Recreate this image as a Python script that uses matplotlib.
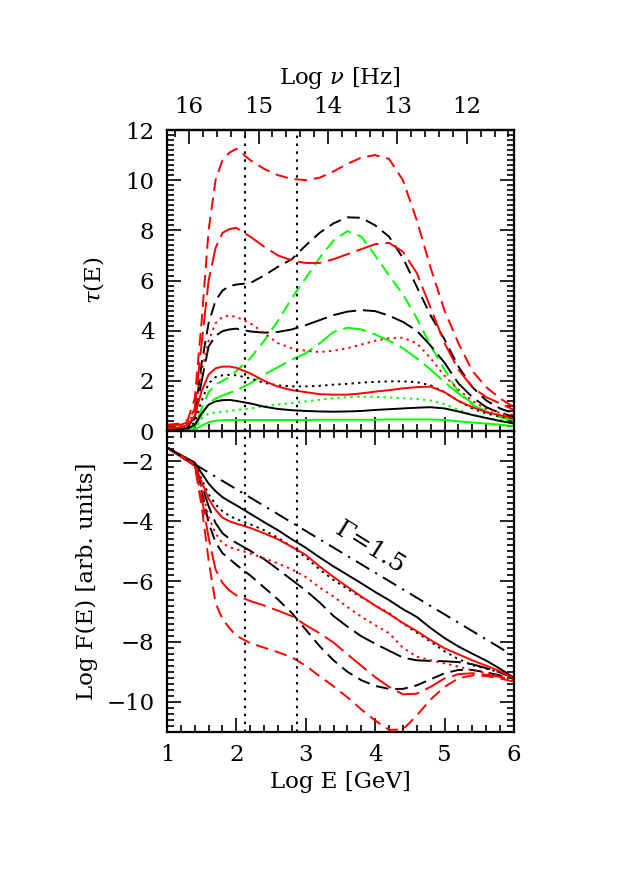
import numpy as np
import matplotlib
matplotlib.use('Agg')
import matplotlib.pyplot as plt
from matplotlib.ticker import MultipleLocator

# ---------------------------------------------------------------
# data
# ---------------------------------------------------------------
# upper panel: optical depth tau(E)
x_tau = [1.0, 1.2, 1.3, 1.4, 1.5, 1.6, 1.7, 1.8, 1.9, 2.0, 2.2, 2.4, 2.6, 2.8, 3.0,
         3.2, 3.4, 3.6, 3.8, 4.0, 4.2, 4.4, 4.6, 4.8, 5.0, 5.2, 5.4, 5.6, 5.8, 6.0]

tau_red_sd = [0.25, 0.3, 0.45, 1.3, 4.4, 8.0, 10.0, 10.8, 11.1, 11.25, 10.8, 10.45, 10.2, 10.05, 10.0,
              10.1, 10.35, 10.65, 10.9, 11.0, 10.85, 10.0, 8.4, 6.5, 4.8, 3.5, 2.4, 1.75, 1.3, 0.95]
tau_red_ld = [0.2, 0.25, 0.35, 0.9, 3.5, 6.0, 7.3, 7.9, 8.05, 8.1, 7.75, 7.35, 7.0, 6.8, 6.7,
              6.7, 6.85, 7.05, 7.25, 7.45, 7.5, 7.15, 6.3, 4.9, 3.5, 2.45, 1.75, 1.35, 1.1, 0.84]
tau_red_dot = [0.15, 0.2, 0.3, 0.8, 2.4, 3.6, 4.3, 4.55, 4.6, 4.55, 4.3, 3.9, 3.5, 3.3, 3.2,
               3.15, 3.2, 3.3, 3.45, 3.6, 3.7, 3.72, 3.5, 2.9, 2.2, 1.65, 1.2, 0.88, 0.72, 0.64]
tau_red_sol = [0.1, 0.15, 0.25, 0.6, 1.6, 2.25, 2.5, 2.57, 2.57, 2.52, 2.3, 2.0, 1.77, 1.63, 1.55,
               1.47, 1.45, 1.45, 1.5, 1.57, 1.63, 1.7, 1.75, 1.77, 1.55, 1.2, 0.95, 0.76, 0.63, 0.5]

tau_blk_sd = [0.1, 0.12, 0.15, 0.6, 2.7, 4.3, 5.2, 5.6, 5.78, 5.84, 5.9, 6.2, 6.55, 6.85, 7.4,
              7.9, 8.28, 8.52, 8.5, 8.2, 7.75, 6.9, 5.75, 4.6, 3.65, 2.57, 1.75, 1.22, 0.9, 0.7]
tau_blk_ld = [0.08, 0.1, 0.12, 0.5, 2.0, 3.37, 3.8, 3.98, 4.05, 4.08, 3.97, 3.92, 3.95, 4.05, 4.22,
              4.42, 4.62, 4.76, 4.82, 4.78, 4.6, 4.35, 4.0, 3.4, 2.72, 1.9, 1.35, 0.95, 0.72, 0.57]
tau_blk_dot = [0.08, 0.1, 0.12, 0.35, 1.2, 1.9, 2.15, 2.22, 2.24, 2.22, 2.1, 1.92, 1.82, 1.78, 1.78,
               1.8, 1.85, 1.88, 1.93, 1.96, 1.98, 1.98, 1.95, 1.82, 1.55, 1.2, 0.9, 0.7, 0.58, 0.5]
tau_blk_sol = [0.05, 0.07, 0.1, 0.25, 0.7, 1.05, 1.18, 1.23, 1.24, 1.2, 1.1, 0.97, 0.88, 0.83, 0.8,
               0.78, 0.77, 0.78, 0.8, 0.84, 0.87, 0.9, 0.93, 0.95, 0.9, 0.78, 0.64, 0.52, 0.4, 0.3]

tau_grn_sd = [0.0, 0.0, 0.02, 0.2, 0.9, 1.55, 1.85, 2.0, 2.15, 2.4, 2.9, 3.6, 4.4, 5.3, 6.1,
              6.9, 7.6, 7.97, 7.75, 7.0, 6.2, 5.45, 4.5, 3.4, 2.45, 1.55, 1.1, 0.77, 0.58, 0.44]
tau_grn_ld = [0.0, 0.0, 0.02, 0.15, 0.65, 1.1, 1.3, 1.42, 1.52, 1.62, 1.9, 2.25, 2.55, 2.85, 3.1,
              3.5, 3.95, 4.12, 4.05, 3.85, 3.6, 3.3, 2.9, 2.45, 1.95, 1.5, 1.05, 0.74, 0.55, 0.44]
tau_grn_dot = [0.0, 0.0, 0.01, 0.1, 0.5, 0.7, 0.74, 0.76, 0.8, 0.84, 0.9, 0.98, 1.06, 1.12, 1.18,
               1.25, 1.31, 1.35, 1.37, 1.36, 1.34, 1.31, 1.28, 1.22, 1.07, 0.85, 0.66, 0.52, 0.44, 0.37]
tau_grn_sol = [0.0, 0.0, 0.0, 0.05, 0.22, 0.35, 0.41, 0.43, 0.44, 0.44, 0.44, 0.44, 0.44, 0.44, 0.44,
               0.45, 0.45, 0.45, 0.45, 0.45, 0.46, 0.46, 0.46, 0.46, 0.44, 0.39, 0.34, 0.3, 0.25, 0.2]

# lower panel: Log F(E)
x_flux = [1.0, 1.2, 1.4, 1.5, 1.6, 1.7, 1.8, 1.9, 2.0, 2.2, 2.4, 2.6, 2.8, 3.0, 3.2,
          3.4, 3.6, 3.8, 4.0, 4.2, 4.4, 4.6, 4.8, 5.0, 5.2, 5.4, 5.6, 5.8, 6.0]

flux_blk_sol = [-1.55, -1.8, -2.05, -2.4, -2.75, -3.0, -3.2, -3.34, -3.47, -3.75, -4.03, -4.3, -4.6, -4.88, -5.2,
                -5.5, -5.78, -6.06, -6.35, -6.62, -6.92, -7.18, -7.55, -7.88, -8.16, -8.4, -8.63, -8.9, -9.2]
flux_red_sol = [-1.55, -1.82, -2.1, -2.7, -3.25, -3.62, -3.88, -4.0, -4.08, -4.22, -4.4, -4.6, -4.85, -5.12, -5.5,
                -5.85, -6.18, -6.5, -6.8, -7.08, -7.38, -7.65, -7.95, -8.22, -8.42, -8.62, -8.8, -8.98, -9.22]
flux_blk_dot = [-1.55, -1.8, -2.07, -2.6, -3.1, -3.44, -3.67, -3.82, -3.93, -4.1, -4.3, -4.55, -4.85, -5.2, -5.6,
                -5.95, -6.25, -6.52, -6.8, -7.05, -7.4, -7.7, -8.0, -8.32, -8.58, -8.78, -8.9, -9.02, -9.22]
flux_red_dot = [-1.55, -1.85, -2.15, -2.9, -3.85, -4.4, -4.73, -4.86, -4.93, -5.07, -5.23, -5.4, -5.6, -5.85, -6.2,
                -6.5, -6.85, -7.17, -7.45, -7.72, -8.2, -8.5, -8.62, -8.72, -8.83, -8.95, -9.05, -9.12, -9.22]
flux_blk_ld = [-1.55, -1.85, -2.15, -2.8, -3.5, -4.06, -4.4, -4.58, -4.72, -4.98, -5.26, -5.6, -5.95, -6.3, -6.7,
               -7.15, -7.5, -7.82, -8.07, -8.3, -8.53, -8.62, -8.64, -8.65, -8.68, -8.75, -8.88, -9.02, -9.22]
flux_blk_sd = [-1.55, -1.85, -2.15, -3.0, -4.05, -4.7, -5.06, -5.25, -5.45, -5.8, -6.2, -6.6, -7.05, -7.6, -8.15,
               -8.62, -9.0, -9.28, -9.47, -9.57, -9.57, -9.45, -9.25, -9.05, -8.94, -8.94, -9.02, -9.12, -9.22]
flux_red_ld = [-1.55, -1.85, -2.15, -3.2, -4.55, -5.6, -6.05, -6.3, -6.46, -6.65, -6.8, -6.97, -7.15, -7.45, -7.72,
               -8.03, -8.42, -8.8, -9.18, -9.5, -9.75, -9.73, -9.5, -9.22, -9.08, -9.05, -9.1, -9.17, -9.28]
flux_red_sd = [-1.55, -1.85, -2.15, -3.5, -5.3, -6.72, -7.25, -7.55, -7.8, -8.05, -8.2, -8.35, -8.52, -8.8, -9.15,
               -9.48, -9.85, -10.25, -10.62, -10.93, -10.92, -10.45, -9.92, -9.5, -9.22, -9.12, -9.14, -9.22, -9.33]

# Gamma = 1.5 reference power law
x_pl = [1.0, 6.0]
flux_pl = [-1.55, -8.48]

# vertical markers
x_marks = [2.12, 2.88]

# conversion Log E [GeV] -> Log nu [Hz] of the target photon
nu0 = 17.32
nu_ticks = [16, 15, 14, 13, 12]

# ---------------------------------------------------------------
plt.rcParams.update({'font.family': 'DejaVu Serif', 'mathtext.fontset': 'dejavuserif',
                     'font.size': 16.5})

sd = (0, (6.5, 3.5))
ld = (0, (12, 3.5))
dot = (0, (1.2, 2.2))
lw = 1.4

fig = plt.figure(figsize=(6.27, 8.72), dpi=100)
ax1 = fig.add_axes([0.2663, 0.5057, 0.5534, 0.3452])
ax2 = fig.add_axes([0.2663, 0.1606, 0.5534, 0.3452])

# upper panel
for y, c, ls in [(tau_grn_sol, 'lime', '-'), (tau_grn_dot, 'lime', dot),
                 (tau_grn_ld, 'lime', ld), (tau_grn_sd, 'lime', sd),
                 (tau_blk_sol, 'k', '-'), (tau_blk_dot, 'k', dot),
                 (tau_blk_ld, 'k', ld), (tau_blk_sd, 'k', sd),
                 (tau_red_sol, 'red', '-'), (tau_red_dot, 'red', dot),
                 (tau_red_ld, 'red', ld), (tau_red_sd, 'red', sd)]:
    ax1.plot(x_tau, y, color=c, ls=ls, lw=lw)

# lower panel
for y, c, ls in [(flux_blk_sol, 'k', '-'), (flux_blk_dot, 'k', dot),
                 (flux_blk_ld, 'k', ld), (flux_blk_sd, 'k', sd),
                 (flux_red_sol, 'red', '-'), (flux_red_dot, 'red', dot),
                 (flux_red_ld, 'red', ld), (flux_red_sd, 'red', sd)]:
    ax2.plot(x_flux, y, color=c, ls=ls, lw=lw)
ax2.plot(x_pl, flux_pl, color='k', ls=(0, (8, 3.5, 1.2, 3.5)), lw=lw)
ax2.text(3.92, -4.9, 'Γ=1.5', rotation=-32, ha='center', va='center', fontsize=18)

for ax in (ax1, ax2):
    for xm in x_marks:
        ax.axvline(xm, color='k', ls=(0, (1.2, 2.6)), lw=1.5)
    ax.set_xlim(1, 6)
    ax.xaxis.set_major_locator(MultipleLocator(1))
    ax.xaxis.set_minor_locator(MultipleLocator(0.2))
    ax.yaxis.set_major_locator(MultipleLocator(2))
    ax.yaxis.set_minor_locator(MultipleLocator(0.2))
    ax.tick_params(which='both', direction='in', right=True, width=1.2)
    ax.tick_params(which='major', length=10, pad=9)
    ax.tick_params(which='minor', length=5)
    [s.set_linewidth(1.6) for s in ax.spines.values()]

ax1.set_ylim(0, 12)
ax1.tick_params(which='both', labelbottom=False, top=False)
ax1.set_ylabel(r'$\tau$(E)')
ax1.yaxis.set_label_coords(-0.175, 0.5)

ax2.set_ylim(-11, -1)
ax2.tick_params(which='both', top=True)
ax2.set_xlabel('Log E [GeV]', labelpad=3)
ax2.set_ylabel('Log F(E) [arb. units]')
ax2.yaxis.set_label_coords(-0.20, 0.5)

# top axis: frequency (linear, reversed: log nu = nu0 - log E)
top = ax1.twiny()
top.set_xlim(nu0 - 1, nu0 - 6)
top.set_xticks(nu_ticks)
top.xaxis.set_minor_locator(MultipleLocator(0.2))
top.tick_params(which='both', direction='in', width=1.2)
top.tick_params(which='major', length=10, pad=9)
top.tick_params(which='minor', length=5)
top.spines['top'].set_linewidth(1.6)
top.set_xlabel(r'Log $\nu$ [Hz]', labelpad=8)

fig.savefig('out.png', dpi=100)
